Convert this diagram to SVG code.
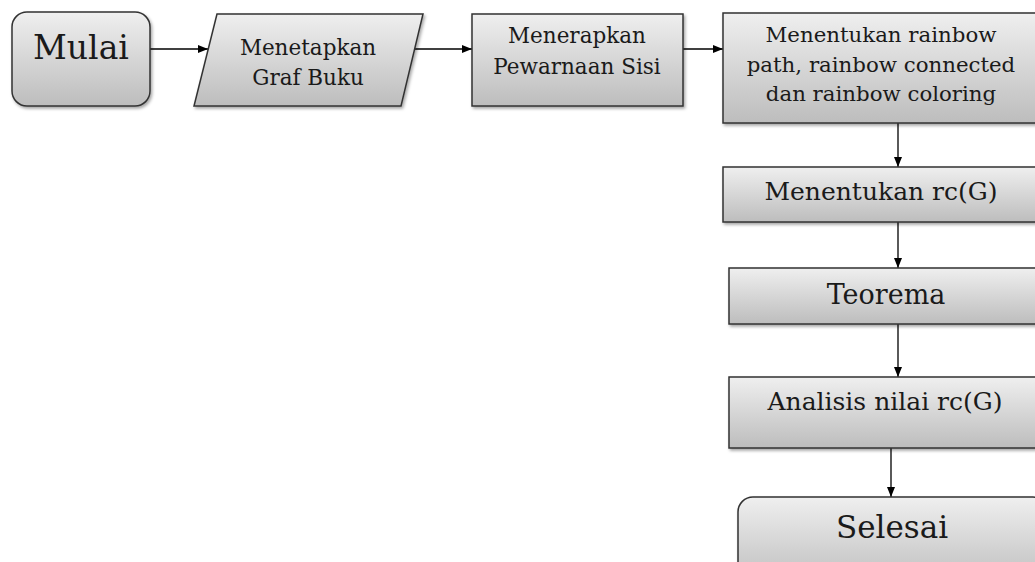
<svg xmlns="http://www.w3.org/2000/svg" width="1035" height="562" viewBox="0 0 1035 562">
<defs>
<linearGradient id="g" x1="0" y1="0" x2="0" y2="1">
<stop offset="0" stop-color="#efefef"/>
<stop offset="1" stop-color="#bdbdbd"/>
</linearGradient>
<filter id="sh" x="-10%" y="-10%" width="130%" height="140%">
<feDropShadow dx="1.5" dy="2" stdDeviation="1.5" flood-color="#000" flood-opacity="0.35"/>
</filter>
<marker id="ah" markerWidth="10" markerHeight="8" refX="10" refY="4" orient="auto" markerUnits="userSpaceOnUse">
<path d="M0,0 L10,4 L0,8 Z" fill="#000"/>
</marker>
<style>
.n{fill:url(#g);stroke:#333;stroke-width:1.5;filter:url(#sh)}
.t{font-family:"DejaVu Serif","Liberation Serif",serif;fill:#1a1a1a;text-anchor:middle}
.c{stroke:#000;stroke-width:1.3;fill:none;marker-end:url(#ah)}
</style>
</defs>
<rect width="1035" height="562" fill="#fff"/>
<g id="connectors">
<line class="c" x1="150" y1="49" x2="208" y2="49"/>
<line class="c" x1="415" y1="49" x2="472" y2="49"/>
<line class="c" x1="683" y1="49" x2="723" y2="49"/>
<line class="c" x1="898" y1="123" x2="898" y2="167"/>
<line class="c" x1="898" y1="222" x2="898" y2="268"/>
<line class="c" x1="898" y1="324" x2="898" y2="377"/>
<line class="c" x1="891" y1="448" x2="891" y2="497"/>
</g>
<g id="mulai">
<rect class="n" x="12" y="12" width="138" height="94" rx="15"/>
<text class="t" x="81" y="59" font-size="33">Mulai</text>
</g>
<g id="menetapkan">
<polygon class="n" points="217,14 423,14 401,106 194,106"/>
<text class="t" x="308" y="55" font-size="21.5">Menetapkan</text>
<text class="t" x="308" y="85" font-size="21.5">Graf Buku</text>
</g>
<g id="menerapkan">
<rect class="n" x="472" y="14" width="211" height="92"/>
<text class="t" x="577" y="43" font-size="21.5">Menerapkan</text>
<text class="t" x="577" y="74" font-size="21.5">Pewarnaan Sisi</text>
</g>
<g id="rainbow">
<rect class="n" x="723" y="13" width="317" height="110"/>
<text class="t" x="881" y="42" font-size="21.3">Menentukan rainbow</text>
<text class="t" x="881" y="72" font-size="21.3">path, rainbow connected</text>
<text class="t" x="881" y="101" font-size="21.3">dan rainbow coloring</text>
</g>
<g id="rcg">
<rect class="n" x="723" y="167" width="317" height="55"/>
<text class="t" x="881" y="200" font-size="25">Menentukan rc(G)</text>
</g>
<g id="teorema">
<rect class="n" x="729" y="268" width="312" height="56"/>
<text class="t" x="886" y="304" font-size="27">Teorema</text>
</g>
<g id="analisis">
<rect class="n" x="729" y="377" width="312" height="71"/>
<text class="t" x="885" y="410" font-size="25">Analisis nilai rc(G)</text>
</g>
<g id="selesai">
<rect class="n" x="738" y="497" width="310" height="90" rx="15"/>
<text class="t" x="892" y="538" font-size="31">Selesai</text>
</g>
</svg>
